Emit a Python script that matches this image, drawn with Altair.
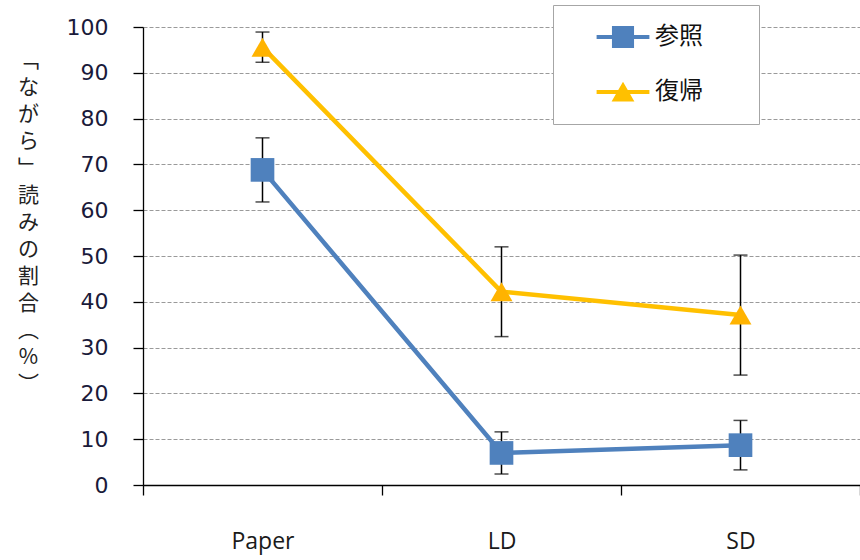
import altair as alt
import pandas as pd

# Conditions on the x axis and the two series
categories = ["Paper", "LD", "SD"]
series_names = ["参照", "復帰"]

# Mean share (%) and error half-widths per condition
ref_mean = [68.8, 7.0, 8.7]
ref_err = [7.0, 4.6, 5.4]
ret_mean = [95.6, 42.2, 37.1]
ret_err = [3.3, 9.8, 13.1]

y_ticks = [0, 10, 20, 30, 40, 50, 60, 70, 80, 90, 100]

# Vertical axis title, one glyph per line (vertical presentation forms for brackets)
y_title = ["\ufe41", "な", "が", "ら", "\ufe42", "読", "み", "の", "割", "合", "\ufe35", "%", "\ufe36"]

rows = []
for name, means, errs in [(series_names[0], ref_mean, ref_err),
                          (series_names[1], ret_mean, ret_err)]:
    for cond, m, e in zip(categories, means, errs):
        rows.append({"cond": cond, "series": name, "mean": m, "err": e})
df = pd.DataFrame(rows)

BLUE = "#4F81BD"
GOLD = "#FFC000"
ORANGE = "#FFB300"

x_scale = alt.Scale(type="band", domain=categories, paddingInner=0, paddingOuter=0)
y_scale = alt.Scale(domain=[0, 100], nice=False, zero=True)

x_axis = alt.Axis(
    title=None, tickBand="extent", grid=False,
    domainColor="black", domainWidth=1.3, tickColor="black", tickWidth=1.3,
    tickSize=10, labelFont="Open Sans", labelFontSize=23, labelColor="#1a1a1a",
    labelPadding=35, labelBaseline="top", labelAngle=0,
)
y_axis = alt.Axis(
    values=y_ticks, title=y_title, titleAngle=0, titleAlign="center",
    titleBaseline="top", titleX=-115, titleY=22, titleLineHeight=27,
    titleFont="Noto Sans CJK JP", titleFontSize=21, titleFontWeight="normal",
    titleColor="#222222",
    domainColor="black", domainWidth=1.3, tickColor="black", tickWidth=1.3,
    tickSize=10, labelFont="DejaVu Sans", labelFontSize=22, labelColor="#1a1a3a",
    labelPadding=25, grid=True, gridColor="#9a9a9a", gridDash=[4, 2], gridWidth=1,
)


def xenc():
    return alt.X("cond:N", sort=categories, scale=x_scale, bandPosition=0.5, axis=x_axis)


def yenc(field):
    return alt.Y(field, scale=y_scale, axis=y_axis, title=y_title)


base = alt.Chart(df).transform_calculate(
    lo="datum.mean - datum.err", hi="datum.mean + datum.err"
)

ref = base.transform_filter(alt.datum.series == series_names[0])
ret = base.transform_filter(alt.datum.series == series_names[1])

line_ref = ref.mark_line(color=BLUE, strokeWidth=4.5).encode(x=xenc(), y=yenc("mean:Q"))
line_ret = ret.mark_line(color=GOLD, strokeWidth=4.5).encode(x=xenc(), y=yenc("mean:Q"))

err_rule = base.mark_rule(color="black", strokeWidth=1.5).encode(
    x=xenc(), y=yenc("lo:Q"), y2="hi:Q"
)
cap_hi = base.mark_tick(color="black", orient="horizontal", size=14, thickness=1.5).encode(
    x=xenc(), y=yenc("hi:Q")
)
cap_lo = base.mark_tick(color="black", orient="horizontal", size=14, thickness=1.5).encode(
    x=xenc(), y=yenc("lo:Q")
)

pts_ref = ref.mark_point(shape="square", filled=True, color=BLUE, opacity=1, size=560).encode(
    x=xenc(), y=yenc("mean:Q")
)
pts_ret = ret.mark_point(shape="triangle-up", filled=True, color=ORANGE, opacity=1, size=480).encode(
    x=xenc(), y=yenc("mean:Q")
)

# Legend symbols: a line segment with the series marker on it
sym_square = "M-2.2,-0.17H2.2V0.17H-2.2Z M-0.92,-0.92H0.92V0.92H-0.92Z"
sym_triangle = "M-2.2,-0.17H2.2V0.17H-2.2Z M0,-0.85L0.95,0.8H-0.95Z"

legend_layer = base.transform_filter("false").mark_point(filled=True, opacity=1).encode(
    x=xenc(),
    y=yenc("mean:Q"),
    color=alt.Color(
        "series:N",
        scale=alt.Scale(domain=series_names, range=[BLUE, GOLD]),
        legend=alt.Legend(
            title=None, orient="none", legendX=410, legendY=-22,
            symbolSize=576, symbolStrokeWidth=0, symbolOpacity=1, symbolOffset=38,
            labelFont="Noto Sans CJK JP", labelFontSize=24, labelColor="#111111",
            labelOffset=20, labelExpr="datum.label + '\u2800\u2800'",
            padding=20, rowPadding=31,
            strokeColor="#a6a6a6", fillColor="white", cornerRadius=0,
        ),
    ),
    shape=alt.Shape(
        "series:N",
        scale=alt.Scale(domain=series_names, range=[sym_square, sym_triangle]),
    ),
)

chart = alt.layer(
    line_ref, line_ret, err_rule, cap_hi, cap_lo, pts_ref, pts_ret, legend_layer
).properties(
    width=717, height=458,
    autosize=alt.AutoSizeParams(type="none"),
    padding={"left": 143, "top": 27, "right": 0, "bottom": 75},
    background="white",
).configure_view(stroke=None)

chart.save("out.html", embed_options={"renderer": "svg", "actions": False})
